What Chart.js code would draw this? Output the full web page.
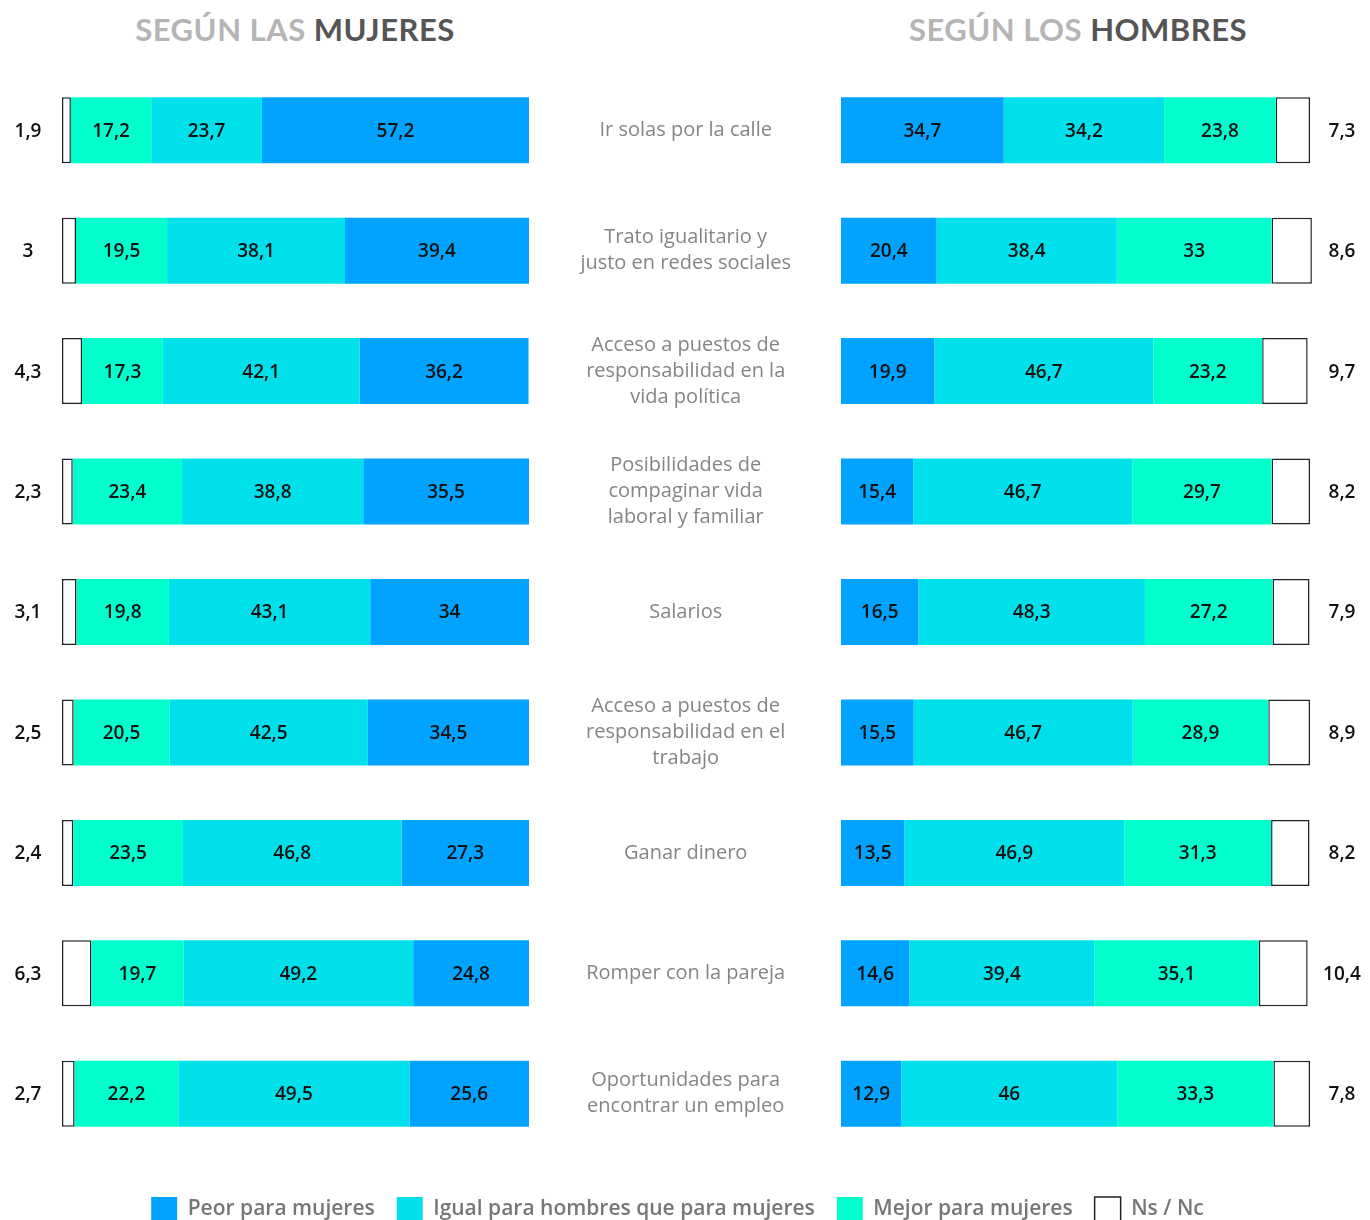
<!DOCTYPE html>
<html lang="es">
<head>
<meta charset="utf-8">
<title>Según las mujeres / Según los hombres</title>
<script src="https://cdn.jsdelivr.net/npm/chart.js@4.4.1/dist/chart.umd.min.js"></script>
<style>
  html, body { margin: 0; padding: 0; background: #fff; overflow: hidden; }
  #wrap { position: relative; width: 1370px; height: 1231px; }
  #wrap canvas { position: absolute; left: 0; top: 0; }
  .title {
    position: absolute; top: 14px; width: 500px; text-align: center;
    font: 700 31px Lato, sans-serif; line-height: 30px; letter-spacing: 0.5px; color: #555;
  }
  .title span { color: #b5b5b5; }
</style>
</head>
<body>
<div id="wrap">
  <div class="title" style="left:45px"><span>SEGÚN LAS</span> MUJERES</div>
  <div class="title" style="left:828px"><span>SEGÚN LOS</span> HOMBRES</div>
  <canvas id="womenChart" width="1370" height="1231"></canvas>
  <canvas id="menChart" width="1370" height="1231"></canvas>
</div>
<script>
const categories = [
  "Ir solas por la calle",
  ["Trato igualitario y", "justo en redes sociales"],
  ["Acceso a puestos de", "responsabilidad en la", "vida política"],
  ["Posibilidades de", "compaginar vida", "laboral y familiar"],
  "Salarios",
  ["Acceso a puestos de", "responsabilidad en el", "trabajo"],
  "Ganar dinero",
  "Romper con la pareja",
  ["Oportunidades para", "encontrar un empleo"]
];

// según las mujeres
const womenNsNc  = [1.9, 3, 4.3, 2.3, 3.1, 2.5, 2.4, 6.3, 2.7];
const womenMejor = [17.2, 19.5, 17.3, 23.4, 19.8, 20.5, 23.5, 19.7, 22.2];
const womenIgual = [23.7, 38.1, 42.1, 38.8, 43.1, 42.5, 46.8, 49.2, 49.5];
const womenPeor  = [57.2, 39.4, 36.2, 35.5, 34, 34.5, 27.3, 24.8, 25.6];

// según los hombres
const menPeor  = [34.7, 20.4, 19.9, 15.4, 16.5, 15.5, 13.5, 14.6, 12.9];
const menIgual = [34.2, 38.4, 46.7, 46.7, 48.3, 46.7, 46.9, 39.4, 46];
const menMejor = [23.8, 33, 23.2, 29.7, 27.2, 28.9, 31.3, 35.1, 33.3];
const menNsNc  = [7.3, 8.6, 9.7, 8.2, 7.9, 8.9, 8.2, 10.4, 7.8];

const labelPeor = "Peor para mujeres";
const labelIgual = "Igual para hombres que para mujeres";
const labelMejor = "Mejor para mujeres";
const labelNsNc = "Ns / Nc";

const colors = {
  peor: "#00a3ff",
  igual: "#00e0ea",
  mejor: "#00ffcc"
};

const fmt = v => String(v).replace(".", ",");

// writes the numbers inside the bars, Ns/Nc goes outside
const valueLabels = {
  id: "valueLabels",
  afterDatasetsDraw(chart, args, opts) {
    const ctx = chart.ctx;
    const area = chart.chartArea;
    ctx.save();
    ctx.font = "600 19px 'Open Sans', sans-serif";
    ctx.fillStyle = "#111";
    ctx.textAlign = "center";
    ctx.textBaseline = "middle";
    chart.data.datasets.forEach((ds, di) => {
      chart.getDatasetMeta(di).data.forEach((bar, i) => {
        let x = (bar.x + bar.base) / 2;
        if (ds.label === labelNsNc) {
          x = opts.side === "left" ? area.left - 34 : area.right + 32;
        }
        ctx.fillText(fmt(ds.data[i]), x, bar.y + 1);
      });
    });
    ctx.restore();
  }
};

function ds(label, data, color) {
  return {
    label: label,
    data: data,
    backgroundColor: color,
    borderWidth: 0,
    barPercentage: 0.548,
    categoryPercentage: 1
  };
}

function nsnc(data) {
  return {
    label: labelNsNc,
    data: data,
    backgroundColor: "#fff",
    borderColor: "#222",
    borderWidth: 1.5,
    borderSkipped: false,
    barPercentage: 0.548,
    categoryPercentage: 1,
    clip: false
  };
}

new Chart(document.getElementById("womenChart"), {
  type: "bar",
  data: {
    labels: categories,
    datasets: [
      nsnc(womenNsNc),
      ds(labelMejor, womenMejor, colors.mejor),
      ds(labelIgual, womenIgual, colors.igual),
      ds(labelPeor, womenPeor, colors.peor)
    ]
  },
  options: {
    indexAxis: "y",
    responsive: false,
    animation: false,
    layout: { padding: { left: 62, right: 841, top: 70, bottom: 77 } },
    scales: {
      x: { stacked: true, min: 0, max: 100, display: false },
      y: { stacked: true, display: false }
    },
    plugins: {
      legend: { display: false },
      tooltip: { enabled: false },
      valueLabels: { side: "left" }
    }
  },
  plugins: [valueLabels]
});

new Chart(document.getElementById("menChart"), {
  type: "bar",
  data: {
    labels: categories,
    datasets: [
      ds(labelPeor, menPeor, colors.peor),
      ds(labelIgual, menIgual, colors.igual),
      ds(labelMejor, menMejor, colors.mejor),
      nsnc(menNsNc)
    ]
  },
  options: {
    indexAxis: "y",
    responsive: false,
    animation: false,
    layout: { padding: { left: 45, right: 60, top: 70, bottom: 0 } },
    scales: {
      x: {
        stacked: true, min: 0, max: 100,
        grid: { display: false },
        border: { display: false },
        ticks: { display: false },
        afterFit: s => { s.height = 21; }
      },
      y: {
        stacked: true,
        position: "left",
        grid: { display: false },
        border: { display: false },
        ticks: {
          crossAlign: "center",
          padding: 42,
          color: "#858585",
          font: { family: "'Open Sans', sans-serif", size: 20, lineHeight: 1.3 }
        },
        afterFit: s => { s.width = 796; }
      }
    },
    plugins: {
      legend: {
        position: "bottom",
        labels: {
          boxWidth: 26,
          boxHeight: 24,
          padding: 22,
          color: "#777",
          font: { family: "'Open Sans', sans-serif", size: 21, weight: "600" }
        }
      },
      tooltip: { enabled: false },
      valueLabels: { side: "right" }
    }
  },
  plugins: [valueLabels]
});
</script>
</body>
</html>
